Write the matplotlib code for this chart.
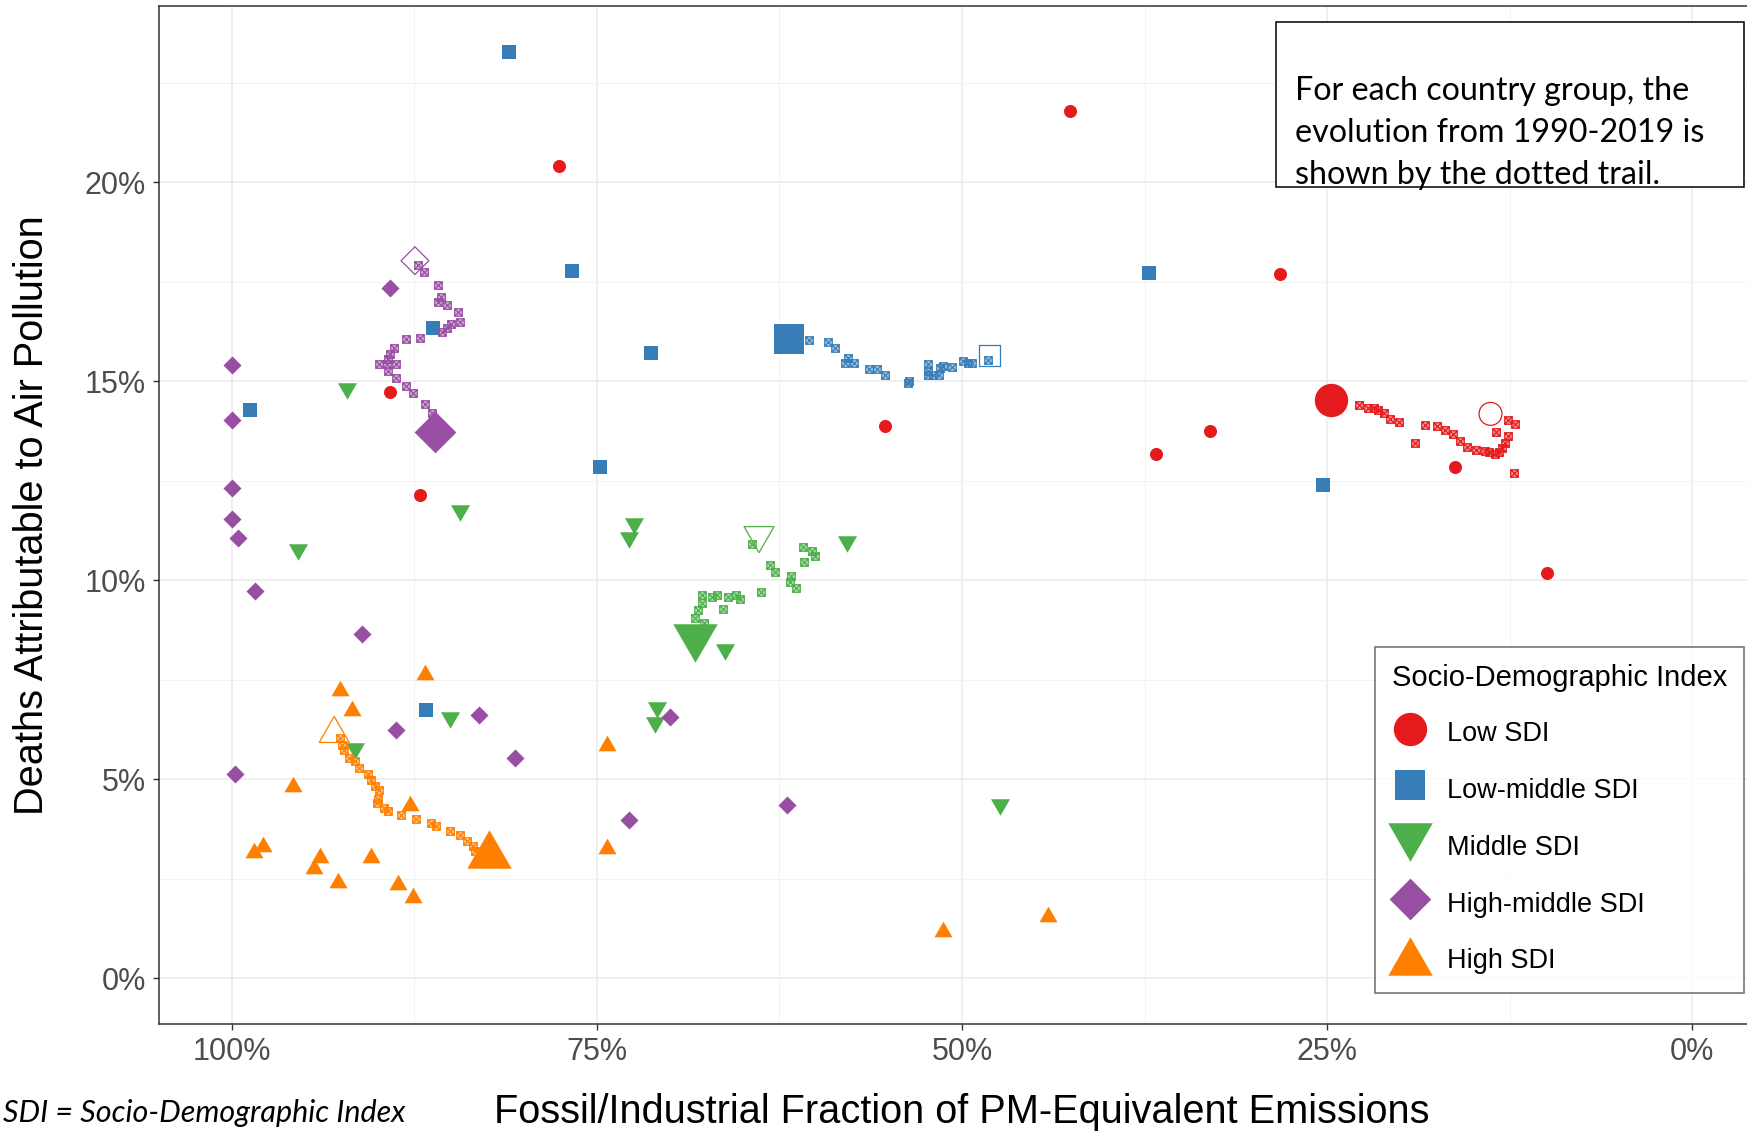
import numpy as np
import matplotlib.pyplot as plt
import matplotlib.path as mpath
from matplotlib.lines import Line2D
from matplotlib.patches import Rectangle
from matplotlib.colors import to_rgba

plt.rcParams['font.family'] = ['Liberation Sans', 'DejaVu Sans']

W, H, DPI = 1747, 1131, 100

groups = ['Low SDI', 'Low-middle SDI', 'Middle SDI', 'High-middle SDI', 'High SDI']
colors = ['#E41A1C', '#377EB8', '#4DAF4A', '#984EA3', '#FF7F00']

# x = fossil/industrial fraction (%), y = deaths attributable (%)
# --- Low SDI ---
low_x = [42.6, 77.6, 28.2, 89.2, 55.3, 33.0, 36.7, 87.1, 16.2, 9.9]
low_y = [21.8, 20.4, 17.7, 14.73, 13.88, 13.76, 13.17, 12.15, 12.85, 10.18]
low_1990 = (13.8, 14.18)
low_2019 = (24.7, 14.54)
low_trail_x = [12.6, 12.1, 12.2, 13.4, 12.6, 12.8, 13.0, 13.2, 13.5, 13.9, 14.2, 14.8,
               15.4, 15.9, 16.4, 16.9, 17.5, 18.3, 19.0, 20.1, 20.7, 21.1, 21.5, 21.8,
               22.2, 22.8]
low_trail_y = [14.03, 13.93, 12.70, 13.73, 13.63, 13.46, 13.32, 13.22, 13.16, 13.22, 13.24, 13.28,
               13.34, 13.50, 13.68, 13.78, 13.87, 13.91, 13.45, 13.97, 14.06, 14.20, 14.27, 14.33,
               14.34, 14.41]

# --- Low-middle SDI ---
lm_x = [81.0, 76.7, 37.2, 86.2, 71.3, 98.8, 74.8, 25.25, 86.7]
lm_y = [23.27, 17.76, 17.71, 16.34, 15.72, 14.27, 12.84, 12.39, 6.75]
lm_1990 = (48.1, 15.64)
lm_2019 = (61.85, 16.06)
lm_trail_x = [48.2, 49.3, 49.6, 49.9, 50.7, 51.3, 51.5, 51.6, 52.0, 52.3, 52.3, 52.3,
              53.6, 53.7, 55.3, 55.8, 56.4, 57.4, 58.0, 57.8, 58.7, 59.2, 60.46]
lm_trail_y = [15.54, 15.46, 15.46, 15.50, 15.36, 15.39, 15.33, 15.16, 15.16, 15.16, 15.25, 15.44,
              15.00, 14.96, 15.16, 15.31, 15.31, 15.45, 15.47, 15.58, 15.83, 15.98, 16.04]

# --- Middle SDI ---
mid_x = [92.1, 84.4, 95.5, 72.5, 72.8, 57.85, 66.2, 70.9, 71.0, 85.05, 91.6, 47.4]
mid_y = [14.75, 11.69, 10.71, 11.36, 11.02, 10.90, 8.20, 6.74, 6.35, 6.48, 5.71, 4.31]
mid_1990 = (63.9, 11.02)
mid_2019 = (68.3, 8.42)
mid_trail_x = [64.4, 63.15, 62.8, 60.9, 60.3, 60.07, 60.8, 61.7, 61.8, 61.4, 63.8, 65.2,
               65.5, 66.0, 66.8, 67.1, 67.8, 67.8, 68.06, 66.4, 68.3, 67.7]
mid_trail_y = [10.91, 10.37, 10.21, 10.84, 10.73, 10.60, 10.46, 10.10, 9.95, 9.81, 9.71, 9.54,
               9.64, 9.58, 9.62, 9.58, 9.62, 9.43, 9.25, 9.27, 9.06, 8.93]

# --- High-middle SDI ---
hm_x = [89.2, 100.0, 100.0, 100.0, 100.0, 99.6, 98.4, 91.1, 83.1, 88.8, 70.0, 80.6,
        99.8, 72.8, 62.0]
hm_y = [17.34, 15.42, 14.03, 12.32, 11.55, 11.05, 9.73, 8.64, 6.61, 6.23, 6.55, 5.52,
        5.12, 3.97, 4.36]
hm_1990 = (87.47, 18.03)
hm_2019 = (86.1, 13.73)
hm_trail_x = [87.24, 86.85, 85.9, 85.7, 85.9, 85.3, 84.5, 84.4, 85.0, 85.25, 85.6, 87.1,
              88.1, 88.9, 89.2, 89.3, 89.9, 89.4, 88.8, 89.3, 88.8, 88.1, 87.6, 86.8, 86.3]
hm_trail_y = [17.93, 17.74, 17.41, 17.11, 16.99, 16.92, 16.74, 16.50, 16.44, 16.34, 16.23, 16.08,
              16.07, 15.83, 15.69, 15.56, 15.43, 15.43, 15.43, 15.25, 15.08, 14.87, 14.70, 14.44, 14.20]

# --- High SDI ---
high_x = [92.6, 91.8, 86.8, 95.8, 87.8, 74.3, 97.85, 98.5, 94.0, 94.4, 90.5, 92.75,
          88.6, 87.6, 74.3, 51.3, 44.1]
high_y = [7.30, 6.80, 7.69, 4.87, 4.39, 5.90, 3.36, 3.22, 3.10, 2.82, 3.09, 2.47,
          2.42, 2.09, 3.33, 1.23, 1.62]
high_1990 = (93.0, 6.25)
high_2019 = (82.4, 3.24)
high_trail_x = [92.6, 92.45, 92.3, 92.0, 91.6, 91.3, 90.7, 90.5, 90.2, 89.9, 90.0, 90.05,
                89.6, 89.3, 88.4, 87.4, 86.4, 86.05, 85.1, 84.4, 83.9, 83.5, 83.35]
high_trail_y = [6.04, 5.87, 5.73, 5.54, 5.46, 5.29, 5.12, 4.98, 4.83, 4.74, 4.51, 4.39,
                4.28, 4.20, 4.09, 3.99, 3.89, 3.82, 3.70, 3.59, 3.45, 3.32, 3.20]

x_ticks = [100, 75, 50, 25, 0]
x_ticklabels = ['100%', '75%', '50%', '25%', '0%']
y_ticks = [0, 5, 10, 15, 20]
y_ticklabels = ['0%', '5%', '10%', '15%', '20%']


def closed_path(verts):
    codes = [mpath.Path.MOVETO] + [mpath.Path.LINETO] * (len(verts) - 1) + [mpath.Path.CLOSEPOLY]
    return mpath.Path(verts + [verts[0]], codes)


tri_up = closed_path([(-1, -0.866), (1, -0.866), (0, 0.866)])
tri_down = closed_path([(-1, 0.866), (1, 0.866), (0, -0.866)])
diamond = closed_path([(0, 1), (1, 0), (0, -1), (-1, 0)])
sq_cross = mpath.Path(
    [(-1, -1), (1, -1), (1, 1), (-1, 1), (-1, -1), (-1, -1), (1, 1), (-1, 1), (1, -1)],
    [1, 2, 2, 2, 79, 1, 2, 1, 2])

markers = ['o', 's', tri_down, diamond, tri_up]
# marker widths in points: small, 2019 (big), 1990 (open)
sizes = [(9.4, 24, 16.5), (9.4, 22, 15), (13.7, 32, 21.6), (13, 30, 20), (13, 32, 21.6)]

data = [
    (low_x, low_y, low_1990, low_2019, low_trail_x, low_trail_y),
    (lm_x, lm_y, lm_1990, lm_2019, lm_trail_x, lm_trail_y),
    (mid_x, mid_y, mid_1990, mid_2019, mid_trail_x, mid_trail_y),
    (hm_x, hm_y, hm_1990, hm_2019, hm_trail_x, hm_trail_y),
    (high_x, high_y, high_1990, high_2019, high_trail_x, high_trail_y),
]

fig = plt.figure(figsize=(W / DPI, H / DPI), dpi=DPI)
ax = fig.add_axes([159 / W, 1 - 1024.3 / H, 1606 / W, 1018.3 / H])
ax.set_xlim(105, -5)
ax.set_ylim(-1.16, 24.43)

for (gx, gy, p90, p19, tx, ty), col, mk, (s_small, s_big, s_open) in zip(data, colors, markers, sizes):
    ax.scatter(gx, gy, s=s_small ** 2, marker=mk, color=col, linewidths=0, zorder=3)
    ax.scatter(tx, ty, s=5.4 ** 2, marker=sq_cross, facecolor=to_rgba(col, 0.4),
               edgecolor=col, linewidths=0.9, zorder=4)
    ax.scatter([p19[0]], [p19[1]], s=s_big ** 2, marker=mk, color=col, linewidths=0, zorder=5)
    ax.scatter([p90[0]], [p90[1]], s=s_open ** 2, marker=mk, facecolor='none',
               edgecolor=col, linewidths=0.9, zorder=5)

ax.set_xticks(x_ticks)
ax.set_xticklabels(x_ticklabels)
ax.set_yticks(y_ticks)
ax.set_yticklabels(y_ticklabels)
ax.set_xticks([87.5, 62.5, 37.5, 12.5], minor=True)
ax.set_yticks([2.5, 7.5, 12.5, 17.5, 22.5], minor=True)
ax.grid(which='major', color='#EBEBEB', linewidth=1.1)
ax.grid(which='minor', color='#F2F2F2', linewidth=0.7)
ax.set_axisbelow(True)
ax.tick_params(which='major', length=4.3, width=1.0, color='#333333',
               labelsize=22, labelcolor='#4D4D4D', pad=5)
ax.tick_params(which='minor', length=0)
for sp in ax.spines.values():
    sp.set_color('#333333')
    sp.set_linewidth(1.1)

ax.set_xlabel('Fossil/Industrial Fraction of PM-Equivalent Emissions', fontsize=28.6)
ax.xaxis.set_label_coords(0.5, (1024.3 - 1112) / 1018.3)
ax.xaxis.label.set_va('center')
ax.set_ylabel('Deaths Attributable to Air Pollution', fontsize=28.6)
ax.yaxis.set_label_coords((32 - 159) / 1606, 0.5)
ax.yaxis.label.set_va('center')
ax.yaxis.label.set_ha('center')

# legend
handles = [Line2D([], [], linestyle='None', marker=mk, markersize=s[1], color=c,
                  markeredgewidth=0)
           for mk, s, c in zip(markers, sizes, colors)]
leg = fig.legend(handles, groups, title='Socio-Demographic Index', loc='upper left',
                 bbox_to_anchor=(1375 / W, 1 - 647 / H), fontsize=19.5, title_fontsize=21,
                 alignment='left', frameon=True, fancybox=False, borderpad=0.62,
                 handlelength=1.31, handleheight=1.48, handletextpad=0.74,
                 labelspacing=0.89, borderaxespad=0)
leg.get_frame().set_edgecolor('#555555')
leg.get_frame().set_linewidth(1.2)
leg.set_zorder(6)

# note box
fig.add_artist(Rectangle((1276 / W, 1 - 187 / H), (1744 - 1276) / W, (187 - 21.7) / H,
                         transform=fig.transFigure, facecolor='white', edgecolor='black',
                         linewidth=1.1, zorder=6))
note_lines = ['For each country group, the', 'evolution from 1990-2019 is',
              'shown by the dotted trail.']
for i, line in enumerate(note_lines):
    fig.text(1295 / W, 1 - (100 + 42 * i) / H, line, fontsize=23.2, family=['Lato', 'DejaVu Sans'],
             va='baseline', ha='left', zorder=7)

fig.text(3 / W, 1 - 1121.7 / H, 'SDI = Socio-Demographic Index', fontsize=22,
         family=['Lato', 'DejaVu Sans'], style='italic', ha='left', va='baseline')

fig.savefig('out.png', dpi=DPI)
